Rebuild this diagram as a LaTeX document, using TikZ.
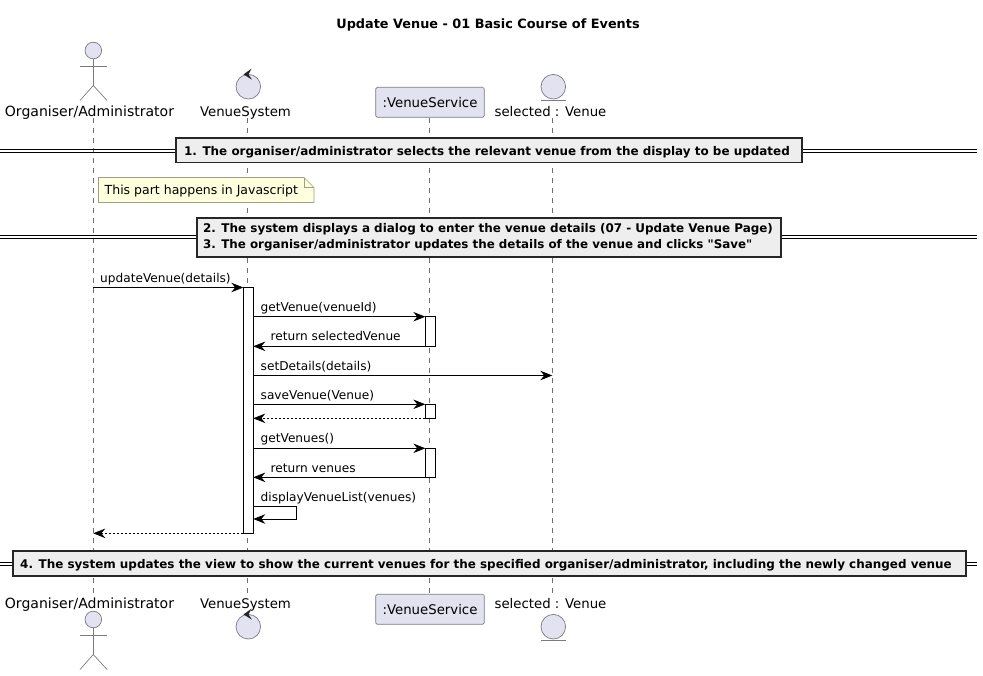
\documentclass[tikz,border=0pt]{standalone}
\usepackage{fontspec}
\setmainfont{DejaVu Sans}[Ligatures=TeXOff]
\usetikzlibrary{arrows.meta,calc}
\definecolor{partfill}{HTML}{E2E2F0}
\definecolor{partline}{HTML}{7B7B85}
\definecolor{notefill}{HTML}{FEFFDD}
\definecolor{noteline}{HTML}{A0A080}
\definecolor{divfill}{HTML}{EEEEEE}
\definecolor{lifeline}{HTML}{6E6E6E}
\tikzset{
  part/.style={draw=partline,fill=partfill,line width=0.7pt},
  plabel/.style={inner sep=0pt,anchor=base,font=\fontsize{13.3}{16}\selectfont},
  msgtext/.style={inner sep=0pt,anchor=base west,font=\fontsize{12.15}{14}\selectfont},
  life/.style={draw=lifeline,line width=0.6pt,dash pattern=on 5pt off 5pt},
  bar/.style={draw=black,fill=white,line width=0.7pt,minimum width=10pt,inner sep=0pt,outer sep=0pt},
  msg/.style={draw=black,line width=0.8pt,-{Stealth[length=12pt,width=9.5pt,inset=4pt]}},
  reply/.style={msg,dash pattern=on 2pt off 2pt},
  divbox/.style={draw=black!85,fill=divfill,line width=1.6pt,inner sep=0pt,outer sep=0pt,font=\bfseries\fontsize{11.95}{14}\selectfont},
  divline/.style={draw=black,line width=0.9pt},
}
\begin{document}
\begin{tikzpicture}[x=1pt,y=-1pt]
\useasboundingbox (0,0) rectangle (983,675);
% lifeline anchors
\coordinate (orgT) at (93.3,118); \coordinate (orgB) at (93.3,594);
\coordinate (sysT) at (247.3,118); \coordinate (sysB) at (247.3,594);
\coordinate (srvT) at (429.3,118); \coordinate (srvB) at (429.3,594);
\coordinate (venT) at (552.3,118); \coordinate (venB) at (552.3,594);
\foreach \a/\b in {orgT/orgB,sysT/sysB,srvT/srvB,venT/venB}{\draw[life] (\a) -- (\b);}
% title
\node[inner sep=0pt,anchor=base,font=\bfseries\fontsize{12.85}{15}\selectfont] (title) at (488,28.5) {Update Venue - 01 Basic Course of Events};
% actors top
\foreach \n/\y in {t/50.5,b/619.5}{
  \node[part,circle,minimum size=16.6pt,inner sep=0pt] (head\n) at (93.3,\y) {};
  \coordinate (hip\n) at (93.3,\y+35);
  \draw[partline,line width=0.7pt] (head\n.south) -- (hip\n);
  \draw[partline,line width=0.7pt] (80,\y+15.5) -- (107,\y+15.5);
  \draw[partline,line width=0.7pt] (80,\y+50) -- (hip\n) -- (107,\y+50);
}
\node[plabel,font=\fontsize{14.05}{16}\selectfont] (orgTop) at (89.5,116) {Organiser/Administrator};
\node[plabel,font=\fontsize{14.05}{16}\selectfont] (orgBot) at (89.5,608) {Organiser/Administrator};
% control
\foreach \n/\y in {t/86.7,b/626.7}{
  \node[part,circle,minimum size=24.6pt,inner sep=0pt] (ctrl\n) at (248.3,\y) {};
  \fill[black!85] (243.5,\y-12.3) -- (251.5,\y-18) -- (248.5,\y-12.3) -- (252,\y-7) -- cycle;
}
\node[plabel] (sysTop) at (245.5,116) {VenueSystem};
\node[plabel] (sysBot) at (245.5,608) {VenueSystem};
% service boxes
\node[part,rounded corners=1.5pt,minimum width=108.6pt,minimum height=30pt,inner sep=0pt,font=\fontsize{13.3}{16}\selectfont] (srvTop) at (430,102.3) {:VenueService};
\node[part,rounded corners=1.5pt,minimum width=108.6pt,minimum height=30pt,inner sep=0pt,font=\fontsize{13.3}{16}\selectfont] (srvBot) at (430,609.3) {:VenueService};
% entity
\foreach \n/\y in {t/86.7,b/626.7}{
  \node[part,circle,minimum size=24.6pt,inner sep=0pt] (ent\n) at (553.3,\y) {};
  \draw[partline,line width=0.7pt] (541,\y+13.3) -- (566,\y+13.3);
}
\node[plabel] (venTop) at (550.5,116) {selected : Venue};
\node[plabel] (venBot) at (550.5,608) {selected : Venue};
% dividers
\foreach \a/\b in {149.4/152.4,235.7/238.7,562.4/565.4}{
  \draw[divline] (0,\a) -- (977,\a);
  \draw[divline] (0,\b) -- (977,\b);
}
\node[divbox,minimum width=626pt,minimum height=24.6pt] (d1) at (489,150.3) {\raisebox{-2pt}[9pt][3pt]{1. The organiser/administrator selects the relevant venue from the display to be updated}\kern4pt};
\node[divbox,minimum width=584pt,minimum height=39pt,align=left] (d2) at (489,237.5) {2. The system displays a dialog to enter the venue details (07 - Update Venue Page)\kern2pt\\[1.6pt]{\fontsize{11.87}{14}\selectfont 3. The organiser/administrator updates the details of the venue and clicks "Save"}};
\node[divbox,minimum width=953pt,minimum height=25pt] (d3) at (489.5,563.4) {\raisebox{-2pt}[9pt][3pt]{4. The system updates the view to show the current venues for the specified organiser/administrator, including the newly changed venue}\kern7pt};
% note
\draw[draw=noteline,fill=notefill,line width=0.7pt] (98.5,177.5) -- (304,177.5) -- (314,187.5) -- (314,202.5) -- (98.5,202.5) -- cycle;
\draw[draw=noteline,line width=0.7pt] (304,177.5) -- (304,187.5) -- (314,187.5);
\node[msgtext,font=\fontsize{12.5}{14}\selectfont] (note) at (104.5,194.5) {This part happens in Javascript};
% activations
\node[bar,minimum height=245.8pt] (a0) at (248.3,410.4) {};
\node[bar,minimum height=29.6pt] (a1) at (430.3,331.5) {};
\node[bar,minimum height=14pt] (a2) at (430.3,411.3) {};
\node[bar,minimum height=29pt] (a3) at (430.3,462.8) {};
% messages
\coordinate (selfA) at (296,506.7);
\coordinate (selfB) at (296,519);
\draw[msg] (orgT |- a0.north) -- (a0.north west);
\draw[msg] (a0.east |- a1.north) -- (a1.north west);
\draw[msg] (a1.south west) -- (a0.east |- a1.south);
\draw[msg] (a0.east |- 0,375.5) -- (venT |- 0,375.5);
\draw[msg] (a0.east |- a2.north) -- (a2.north west);
\draw[reply] (a2.south west) -- (a0.east |- a2.south);
\draw[msg] (a0.east |- a3.north) -- (a3.north west);
\draw[msg] (a3.south west) -- (a0.east |- a3.south);
\draw[msg] (a0.east |- selfA) -- (selfA) -- (selfB) -- (a0.east |- selfB);
\draw[reply] (a0.south west) -- (orgT |- a0.south);
% message labels
\node[msgtext] (l1) at (100,282) {updateVenue(details)};
\node[msgtext] (l2) at (260.5,311.3) {getVenue(venueId)};
\node[msgtext] (l3) at (270.5,340.8) {return selectedVenue};
\node[msgtext] (l4) at (260.5,370) {setDetails(details)};
\node[msgtext] (l5) at (260.5,399.3) {saveVenue(Venue)};
\node[msgtext] (l6) at (260.5,442.8) {getVenues()};
\node[msgtext] (l7) at (270.5,472) {return venues};
\node[msgtext] (l8) at (260.5,501.3) {displayVenueList(venues)};
\end{tikzpicture}
\end{document}
